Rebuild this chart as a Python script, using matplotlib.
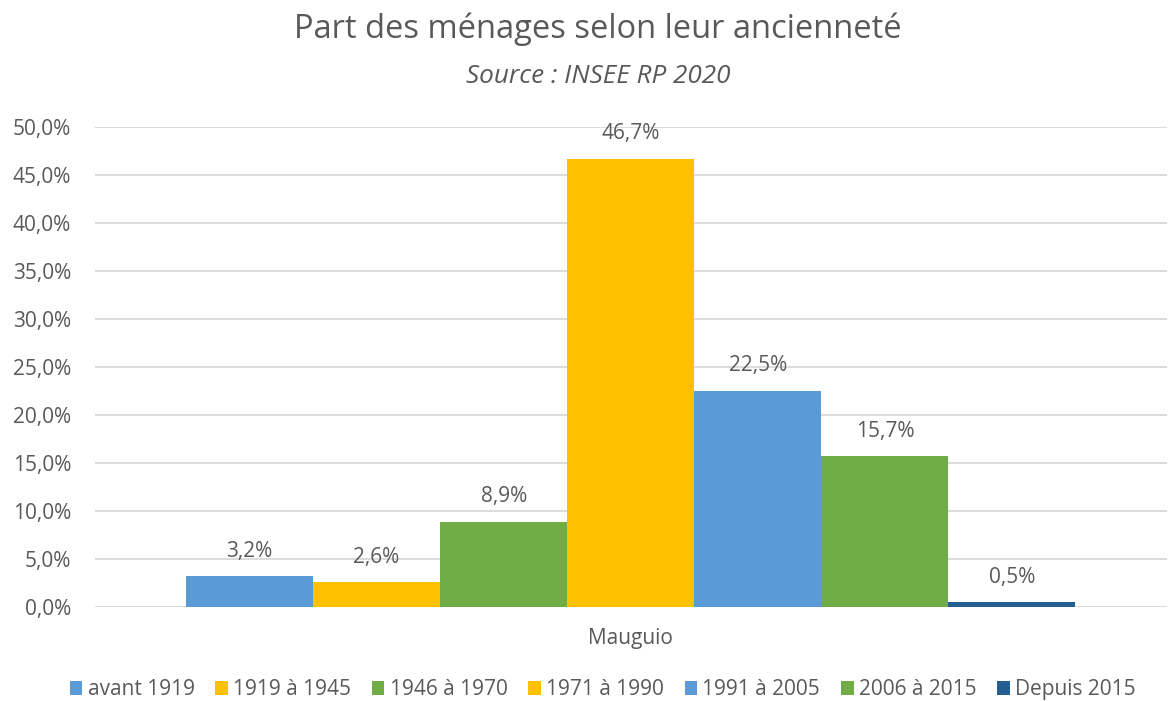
import numpy as np
from matplotlib import pyplot as plt

# données
periodes = ['avant 1919', '1919 à 1945', '1946 à 1970', '1971 à 1990', '1991 à 2005', '2006 à 2015', 'Depuis 2015']
valeurs = [3.2, 2.6, 8.9, 46.7, 22.5, 15.7, 0.5]
couleurs = ['#5B9BD5', '#FFC000', '#70AD47', '#FFC000', '#5B9BD5', '#70AD47', '#255E91']
commune = 'Mauguio'

plt.rcParams['font.family'] = ['Open Sans', 'DejaVu Sans']
gris = '#595959'
fs = 15

fig = plt.figure(figsize=(11.68, 7.01), dpi=100)
ax = fig.add_axes([0.081, 0.134, 0.918, 0.685])

w = 0.1185
n = len(valeurs)
for i in range(n):
	x = (i - (n - 1) / 2) * w
	ax.bar(x, valeurs[i], width=w, color=couleurs[i], label=periodes[i], zorder=2)
	ax.annotate(('%.1f%%' % valeurs[i]).replace('.', ','), (x, valeurs[i]),
		xytext=(0, 18), textcoords='offset points', ha='center', va='center',
		fontsize=fs, color=gris)

ax.set_xlim(-0.5, 0.5)
ax.set_ylim(0, 50)
ax.set_yticks(np.arange(0, 51, 5))
ax.set_yticklabels([('%.1f%%' % v).replace('.', ',') for v in np.arange(0, 51, 5)], fontsize=fs, color=gris)
ax.set_xticks([0])
ax.set_xticklabels([commune], fontsize=fs, color=gris)
ax.tick_params(axis='y', length=0, pad=17)
ax.tick_params(axis='x', length=0, pad=15)
ax.grid(axis='y', color='#D9D9D9', linewidth=1.3, zorder=0)
for s in ax.spines.values():
	s.set_visible(False)

fig.text(0.512, 0.958, 'Part des ménages selon leur ancienneté', ha='center', va='center', fontsize=23.5, color=gris)
fig.text(0.512, 0.891, 'Source : INSEE RP 2020', ha='center', va='center', fontsize=18.8, style='italic', color=gris)

fig.legend(loc='center', bbox_to_anchor=(0.516, 0.016), ncol=7, frameon=False, fontsize=fs,
	labelcolor=gris, handlelength=0.6, handleheight=0.6, handletextpad=0.25, columnspacing=1.0)

fig.savefig('out.png', dpi=100)
